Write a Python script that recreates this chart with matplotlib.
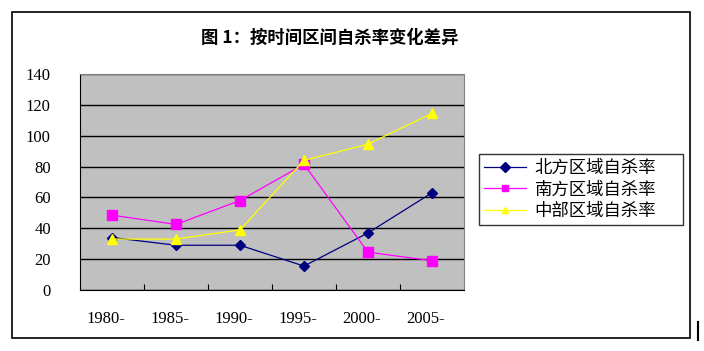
import matplotlib
matplotlib.use('Agg')
import matplotlib.pyplot as plt
from matplotlib.patches import Rectangle
from matplotlib.lines import Line2D

plt.rcParams['font.family'] = ['Noto Sans CJK SC', 'DejaVu Sans']

periods = ['1980-', '1985-', '1990-', '1995-', '2000-', '2005-']
north = [34, 29, 29, 15.5, 37, 63]
south = [48.5, 42.5, 58, 81.5, 24.5, 19]
middle = [33, 33, 39, 84, 94.5, 114.5]
names = ['北方区域自杀率', '南方区域自杀率', '中部区域自杀率']

fig = plt.figure(figsize=(7.04, 3.51), dpi=100)
fig.patch.set_facecolor('white')

# outer frame
fig.add_artist(Rectangle((12 / 704, 1 - 338 / 351), 678 / 704, 326 / 351,
                         transform=fig.transFigure, fill=False, ec='black', lw=1.2))
fig.add_artist(Line2D([698 / 704, 698 / 704], [1 - 340 / 351, 1 - 322 / 351],
                      transform=fig.transFigure, color='black', lw=1.5))

ax = fig.add_axes([80 / 704, 1 - 290 / 351, 384 / 704, 216 / 351])
ax.set_facecolor('#C0C0C0')

x = list(range(len(periods)))
ax.plot(x, north, color='#000080', marker='D', markersize=5, lw=0.9, label=names[0])
ax.plot(x, south, color='#FF00FF', marker='s', markersize=7, lw=0.9, label=names[1])
ax.plot(x, middle, color='#FFFF00', marker='^', markersize=7.5, lw=0.9, label=names[2])

ax.set_xlim(-0.5, 5.5)
ax.set_ylim(0, 140)
ax.set_yticks(range(0, 141, 20))
ax.yaxis.grid(True, color='black', lw=1)
ax.set_axisbelow(True)

ax.set_xticks([i + 0.5 for i in range(5)])
ax.set_xticklabels([])
ax.set_xticks([i - 0.1 for i in x], minor=True)
ax.set_xticklabels(periods, minor=True, family=['Liberation Serif'], fontsize=12)
ax.tick_params(axis='x', which='major', direction='in', length=4, color='black')
ax.tick_params(axis='x', which='minor', length=0, pad=15)
ax.tick_params(axis='y', length=0, pad=21)
for lab in ax.get_yticklabels():
    lab.set_family(['Liberation Serif'])
    lab.set_fontsize(12)

ax.spines['left'].set_color('black')
ax.spines['bottom'].set_color('black')
ax.spines['top'].set_color('#808080')
ax.spines['right'].set_color('#808080')

leg = ax.legend(loc='center left', bbox_to_anchor=(479 / 704, 1 - 228 / 351, 204 / 704, 77 / 351),
                bbox_transform=fig.transFigure, mode='expand', frameon=True, fancybox=False,
                edgecolor='black', fontsize=12.5, handlelength=2.4, borderaxespad=0,
                labelspacing=0.2, handletextpad=0.5, borderpad=0.3)
leg.get_frame().set_linewidth(1)
for h in leg.legend_handles:
    h.set_markersize(5)

fig.text(330 / 704, 1 - 38 / 351, '图 1：按时间区间自杀率变化差异', ha='center', va='center',
         fontsize=12.5, fontweight='bold')

fig.savefig('out.png', dpi=100)
